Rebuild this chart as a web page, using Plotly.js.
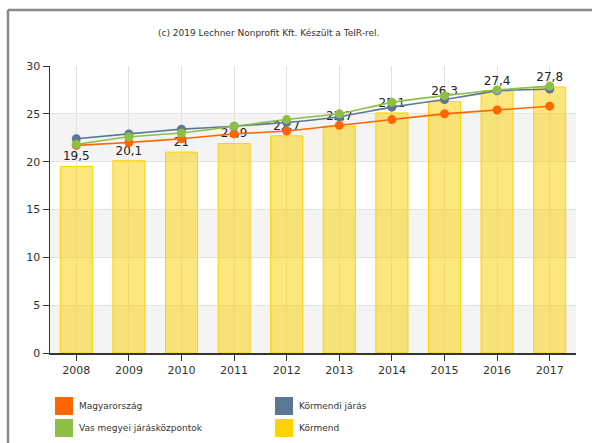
<!DOCTYPE html>
<html><head><meta charset="utf-8">
<script src="https://cdn.plot.ly/plotly-3.0.1.min.js"></script>
<style>html,body{margin:0;padding:0;background:#fff}#c{width:592px;height:443px}</style>
</head><body><div id="c"></div>
<script>
const years = ['2008','2009','2010','2011','2012','2013','2014','2015','2016','2017'];
const kormend = [19.5, 20.1, 21, 21.9, 22.7, 23.7, 25.1, 26.3, 27.4, 27.8];
const magyarorszag = [21.7, 22.0, 22.4, 22.9, 23.2, 23.8, 24.4, 25.0, 25.4, 25.8];
const kormendiJaras = [22.4, 22.9, 23.4, 23.7, 24.1, 24.7, 25.7, 26.5, 27.4, 27.6];
const vasMegyei = [21.8, 22.6, 23.0, 23.7, 24.4, 25.0, 26.2, 26.9, 27.5, 27.9];
const seriesNames = ['Magyarország', 'Körmendi járás', 'Vas megyei járásközpontok', 'Körmend'];
const sourceText = '(c) 2019 Lechner Nonprofit Kft. Készült a TeIR-rel.';

const C = {orange:'#ff6600', blue:'#5b7796', green:'#8dbf45', yellow:'#ffd200'};
const FONT = 'DejaVu Sans, Verdana, sans-serif';

// pixel -> paper helpers (plot area 50..576 x, 66..353 y)
const L=50, R=576, T=66, B=353;
const px = x => (x-L)/(R-L);
const py = y => (B-y)/(B-T);

const lineTrace = (y, name, color) => ({
  type:'scatter', mode:'lines+markers', x:years, y:y, name:name,
  line:{color:color, width:1.6, shape:'spline', smoothing:0.3},
  marker:{color:color, size:9}, showlegend:false, cliponaxis:false
});

const data = [
  {type:'bar', x:years, y:kormend, name:seriesNames[3],
   marker:{color:'rgba(250,210,20,0.55)', line:{color:'#ffd200', width:1}},
   width:0.61, text:kormend.map(v=>String(v).replace('.',',')),
   textposition:'outside', cliponaxis:false,
   textfont:{family:FONT, size:12, color:'#222'}, showlegend:false},
  lineTrace(magyarorszag, seriesNames[0], C.orange),
  lineTrace(kormendiJaras, seriesNames[1], C.blue),
  lineTrace(vasMegyei, seriesNames[2], C.green)
];

const shapes = [];
// alternating bands
[[0,5],[10,15],[20,25]].forEach(b=>shapes.push({type:'rect', xref:'paper', yref:'y', x0:0, x1:1, y0:b[0], y1:b[1], fillcolor:'#f4f4f4', line:{width:0}, layer:'below'}));
// frame
shapes.push({type:'line', xref:'paper', yref:'paper', x0:px(8), x1:px(8), y0:py(10), y1:py(445), line:{color:'#888', width:2.5}, layer:'above'});
shapes.push({type:'line', xref:'paper', yref:'paper', x0:px(8), x1:px(595), y0:py(10), y1:py(10), line:{color:'#888', width:2.5}, layer:'above'});

// legend
const legendItems = [
  {name:seriesNames[0], color:C.orange, x:55, y:397},
  {name:seriesNames[2], color:C.green, x:55, y:419},
  {name:seriesNames[1], color:C.blue, x:275, y:397},
  {name:seriesNames[3], color:C.yellow, x:275, y:419}
];
const annotations = [];
legendItems.forEach(it=>{
  shapes.push({type:'rect', xref:'paper', yref:'paper', x0:px(it.x), x1:px(it.x+18), y0:py(it.y), y1:py(it.y+18), fillcolor:it.color, line:{width:0}});
  annotations.push({xref:'paper', yref:'paper', x:px(it.x+22), y:py(it.y+9), text:it.name, showarrow:false, xanchor:'left', yanchor:'middle', font:{family:FONT, size:9, color:'#333'}});
});
annotations.push({xref:'paper', yref:'paper', x:px(268), y:py(33), text:sourceText, showarrow:false, xanchor:'center', yanchor:'middle', font:{family:FONT, size:9, color:'#333'}});

const layout = {
  width:592, height:443,
  margin:{l:L, r:592-R, t:T, b:443-B, pad:0},
  paper_bgcolor:'#fff', plot_bgcolor:'rgba(0,0,0,0)',
  showlegend:false,
  xaxis:{type:'category', range:[-0.5,9.5], showgrid:true, gridcolor:'#e2e2e2', gridwidth:1,
    showline:true, linecolor:'#333', linewidth:1.5, ticks:'outside', ticklen:6, tickcolor:'#333',
    tickfont:{family:FONT, size:11, color:'#333'}, zeroline:false, fixedrange:true},
  yaxis:{range:[0,30], dtick:5, showgrid:true, gridcolor:'#e2e2e2', gridwidth:1,
    showline:true, linecolor:'#333', linewidth:1.5, ticks:'outside', ticklen:6, tickcolor:'#333',
    tickfont:{family:FONT, size:11, color:'#333'}, zeroline:false},
  shapes:shapes, annotations:annotations, bargap:0.39
};
Plotly.newPlot('c', data, layout, {displayModeBar:false, staticPlot:true});
</script></body></html>
